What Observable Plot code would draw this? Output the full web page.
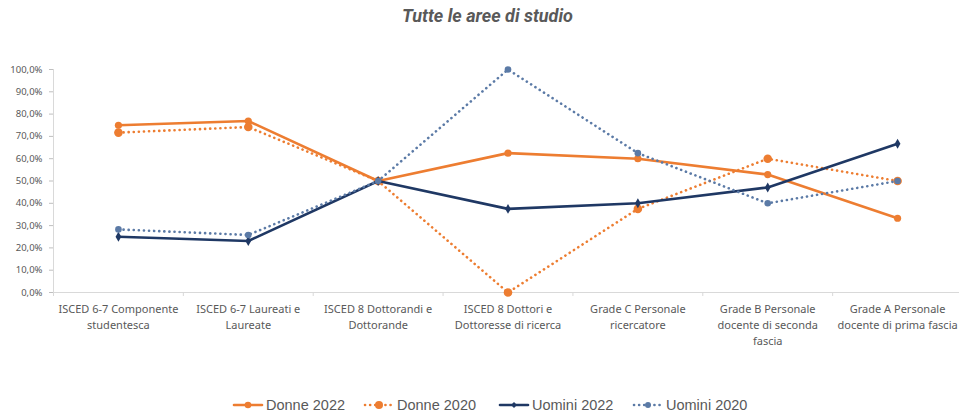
<!DOCTYPE html>
<html>
<head>
<meta charset="utf-8">
<script src="https://cdn.jsdelivr.net/npm/d3@7"></script>
<script src="https://cdn.jsdelivr.net/npm/@observablehq/plot@0.6"></script>
<style>
  body { margin: 0; background: #fff; width: 959px; height: 414px; overflow: hidden; position: relative; }
  #title { position: absolute; left: 0; top: 5px; width: 975px; text-align: center; font-family: Roboto, sans-serif; font-style: italic; font-weight: bold; font-size: 18px; color: #595959; }
  #chart { position: absolute; left: 0; top: 40px; }
  #legend { position: absolute; top: 395px; left: 0; width: 959px; height: 20px; font-family: "Liberation Sans", Arial, sans-serif; font-size: 14.5px; color: #595959; }
  .item { position: absolute; top: 0; display: flex; align-items: center; height: 20px; }
  .item svg { margin-right: 2px; }
</style>
</head>
<body>
<div id="title">Tutte le aree di studio</div>
<div id="chart"></div>
<div id="legend"></div>
<script>
const categories = [
  "ISCED 6-7 Componente studentesca",
  "ISCED 6-7 Laureati e Laureate",
  "ISCED 8 Dottorandi e Dottorande",
  "ISCED 8 Dottori e Dottoresse di ricerca",
  "Grade C Personale ricercatore",
  "Grade B Personale docente di seconda fascia",
  "Grade A Personale docente di prima fascia"
];
const xTickLabels = [
  "ISCED 6-7 Componente\nstudentesca",
  "ISCED 6-7 Laureati e\nLaureate",
  "ISCED 8 Dottorandi e\nDottorande",
  "ISCED 8 Dottori e\nDottoresse di ricerca",
  "Grade C Personale\nricercatore",
  "Grade B Personale\ndocente di seconda\nfascia",
  "Grade A Personale\ndocente di prima fascia"
];
const donne2022 = [0.75, 0.769, 0.50, 0.625, 0.60, 0.529, 0.333];
const donne2020 = [0.717, 0.742, 0.50, 0.0, 0.375, 0.60, 0.50];
const uomini2022 = [0.25, 0.231, 0.50, 0.375, 0.40, 0.471, 0.667];
const uomini2020 = [0.283, 0.258, 0.50, 1.0, 0.625, 0.40, 0.50];
const seriesNames = ["Donne 2022", "Donne 2020", "Uomini 2022", "Uomini 2020"];
const yTicks = [0, 0.1, 0.2, 0.3, 0.4, 0.5, 0.6, 0.7, 0.8, 0.9, 1.0];

const orange = "#ed7d31", navy = "#1f3864", steel = "#5b7aa6";
const style = {
  "Donne 2022": {stroke: orange, dash: null, symbol: "circle", r: 3.6},
  "Donne 2020": {stroke: orange, dash: "0.1,5", symbol: "circle", r: 4.3},
  "Uomini 2022": {stroke: navy, dash: null, symbol: "diamond", r: 3},
  "Uomini 2020": {stroke: steel, dash: "0.1,5", symbol: "circle", r: 3.3}
};
const allValues = [donne2022, donne2020, uomini2022, uomini2020];
const rows = (vals) => vals.map((v, i) => ({i, v}));
const idx = categories.map((_, i) => i);
const bounds = d3.range(categories.length + 1).map(i => i - 0.5);

const marks = [];
marks.push(Plot.ruleY([0], {stroke: "#d9d9d9", strokeWidth: 1}));
marks.push(Plot.ruleX([-0.5], {stroke: "#d9d9d9", strokeWidth: 1}));
marks.push(Plot.axisY({ticks: yTicks, tickSize: 4, tickPadding: 7, stroke: "#bfbfbf",
  tickFormat: d => (d * 100).toFixed(1).replace(".", ",") + "%",
  fontSize: 9.5, fill: "#595959", label: null, fontFamily: "Noto Sans"}));
marks.push(Plot.axisX({ticks: bounds, tickSize: 4, tickFormat: () => "", stroke: "#d9d9d9", label: null}));
marks.push(Plot.axisX({ticks: idx, tickSize: 0, tickPadding: 9, tickFormat: i => xTickLabels[i],
  fontSize: 11, fill: "#595959", label: null, lineHeight: 1.45, fontFamily: "Noto Sans"}));

seriesNames.forEach((name, k) => {
  const s = style[name];
  const data = rows(allValues[k]);
  marks.push(Plot.line(data, {x: "i", y: "v", stroke: s.stroke, strokeWidth: 2.6,
    strokeDasharray: s.dash, strokeLinecap: "round", curve: "linear"}));
  marks.push(Plot.dot(data, {x: "i", y: "v", fill: s.stroke, stroke: "none", r: s.r, symbol: s.symbol}));
});

const plot = Plot.plot({
  width: 959,
  height: 350,
  marginTop: 29,
  marginBottom: 98,
  marginLeft: 53,
  marginRight: 0,
  style: {fontFamily: "Noto Sans", background: "white"},
  x: {domain: [-0.5, 6.5], range: [53, 962]},
  y: {domain: [0, 1]},
  marks
});
document.getElementById("chart").appendChild(plot);

// legend
const legendX = [232, 363, 498, 632];
const legend = document.getElementById("legend");
seriesNames.forEach((name, k) => {
  const s = style[name];
  const div = document.createElement("div");
  div.className = "item";
  div.style.left = legendX[k] + "px";
  const sym = s.symbol === "diamond"
    ? `<path d="M16,7 L19,10 L16,13 L13,10 Z" fill="${s.stroke}"/>`
    : `<circle cx="16" cy="10" r="${s.r - 0.3}" fill="${s.stroke}"/>`;
  div.innerHTML = `<svg width="32" height="20"><line x1="2" x2="30" y1="10" y2="10" stroke="${s.stroke}" stroke-width="2.6" stroke-linecap="round" ${s.dash ? `stroke-dasharray="${s.dash}"` : ""}/>${sym}</svg><span>${name}</span>`;
  legend.appendChild(div);
});
</script>
</body>
</html>
